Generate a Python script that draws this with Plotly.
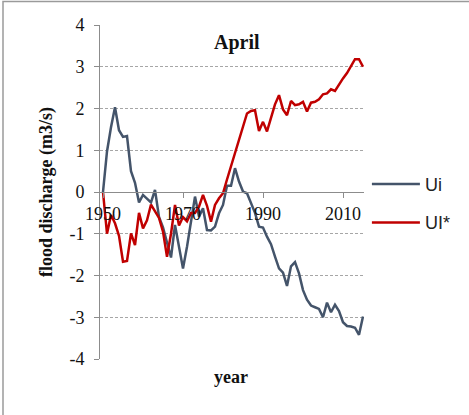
import plotly.graph_objects as go

years = list(range(1950, 2016))

ui = [0, 0.97, 1.55, 2.03, 1.48, 1.32, 1.34, 0.5, 0.22, -0.25,
      -0.07, -0.15, -0.25, 0.05, -0.6, -0.85, -1.2, -1.57, -0.79, -1.31,
      -1.83, -1.31, -0.71, -0.11, -0.59, -0.39, -0.91, -0.92, -0.83, -0.51,
      -0.31, 0.15, 0.15, 0.57, 0.25, 0.01, -0.03, -0.27, -0.5, -0.83,
      -0.85, -1.07, -1.25, -1.55, -1.83, -1.93, -2.25, -1.78, -1.68, -1.95,
      -2.35, -2.58, -2.72, -2.76, -2.8, -3.0, -2.65, -2.88, -2.7, -2.85,
      -3.12, -3.21, -3.22, -3.25, -3.42, -2.98]

ui_star = [0, -1.0, -0.55, -0.75, -1.05, -1.67, -1.65, -0.99, -1.27, -0.5,
           -0.87, -0.68, -0.3, -0.45, -0.62, -0.95, -1.55, -1.0, -0.31, -0.8,
           -0.6, -0.7, -0.5, -0.5, -0.35, -0.07, -0.33, -0.71, -0.31, -0.15,
           -0.03, 0.3, 0.62, 0.96, 1.3, 1.6, 1.88, 1.94, 1.96, 1.46,
           1.68, 1.45, 1.8, 2.1, 2.32, 1.98, 1.84, 2.18, 2.08, 2.1,
           2.16, 1.93, 2.14, 2.16, 2.22, 2.34, 2.36, 2.46, 2.42, 2.58,
           2.72, 2.85, 3.02, 3.18, 3.18, 3.0]

x_ticks = [1950, 1970, 1990, 2010]
y_ticks = [-4, -3, -2, -1, 0, 1, 2, 3, 4]
y_ticktext = ["-4", "-3", "-2", "-1", "0", "1", "2", "3", "4"]

serif = "Liberation Serif"
sans = "Liberation Sans"

fig = go.Figure()
fig.add_trace(go.Scatter(x=years, y=ui, mode="lines", name="Ui",
                         legendgroup="a",
                         line=dict(color="#44546A", width=2.5)))
fig.add_trace(go.Scatter(x=years, y=ui_star, mode="lines", name="UI*",
                         legendgroup="b",
                         line=dict(color="#C00000", width=2.5)))

fig.update_layout(
    width=469, height=415,
    margin=dict(l=100, r=105, t=25, b=56, autoexpand=False),
    paper_bgcolor="white", plot_bgcolor="white",
    showlegend=True,
    legend=dict(x=1.011, xanchor="left", y=0.466, yanchor="middle",
                font=dict(family=sans, size=18, color="#222"),
                traceorder="grouped", tracegroupgap=12, itemwidth=48,
                bgcolor="rgba(0,0,0,0)"),
    xaxis=dict(range=[1949.25, 2015.25], tickvals=x_ticks,
               ticktext=[str(v) for v in x_ticks],
               anchor="free", position=0.5, automargin=False,
               showline=True, linecolor="#8C8C8C", linewidth=1,
               ticks="outside", ticklen=5, tickcolor="#8C8C8C",
               showgrid=False, zeroline=False,
               tickfont=dict(family=serif, size=18, color="#111")),
    yaxis=dict(range=[-4, 4], tickvals=y_ticks, ticktext=y_ticktext,
               automargin=False,
               showline=True, linecolor="#8C8C8C", linewidth=1,
               ticks="outside", ticklen=5, tickcolor="#8C8C8C",
               ticklabelstandoff=6,
               showgrid=True, gridcolor="#A6A6A6", griddash="3px,2px", gridwidth=1,
               zeroline=False,
               tickfont=dict(family=serif, size=18, color="#111"),
               title=dict(text="<b>flood discharge (m3/s)</b>", standoff=12,
                          font=dict(family=serif, size=18, color="#111"))),
    annotations=[
        dict(text="<b>April</b>", x=0.519, y=(359 - 43) / 334,
             xref="paper", yref="paper", xanchor="center", yanchor="middle",
             showarrow=False, font=dict(family=serif, size=20, color="#111")),
        dict(text="<b>year</b>", x=(231 - 100) / 264, y=(359 - 377) / 334,
             xref="paper", yref="paper", xanchor="center", yanchor="middle",
             showarrow=False,
             font=dict(family=serif, size=18, color="#111")),
    ],
    shapes=[
        dict(type="rect", xref="paper", yref="paper",
             x0=(3 - 100) / 264, x1=(480 - 100) / 264,
             y0=(359 - 430) / 334, y1=(359 - 1.5) / 334,
             line=dict(color="#9A9A9A", width=1.5), layer="above"),
    ],
)

fig.write_html("out.html",
               config={"displayModeBar": False},
               post_script="document.body.style.margin='0';"
                           "document.body.style.padding='0';"
                           "document.body.style.overflow='hidden';")
